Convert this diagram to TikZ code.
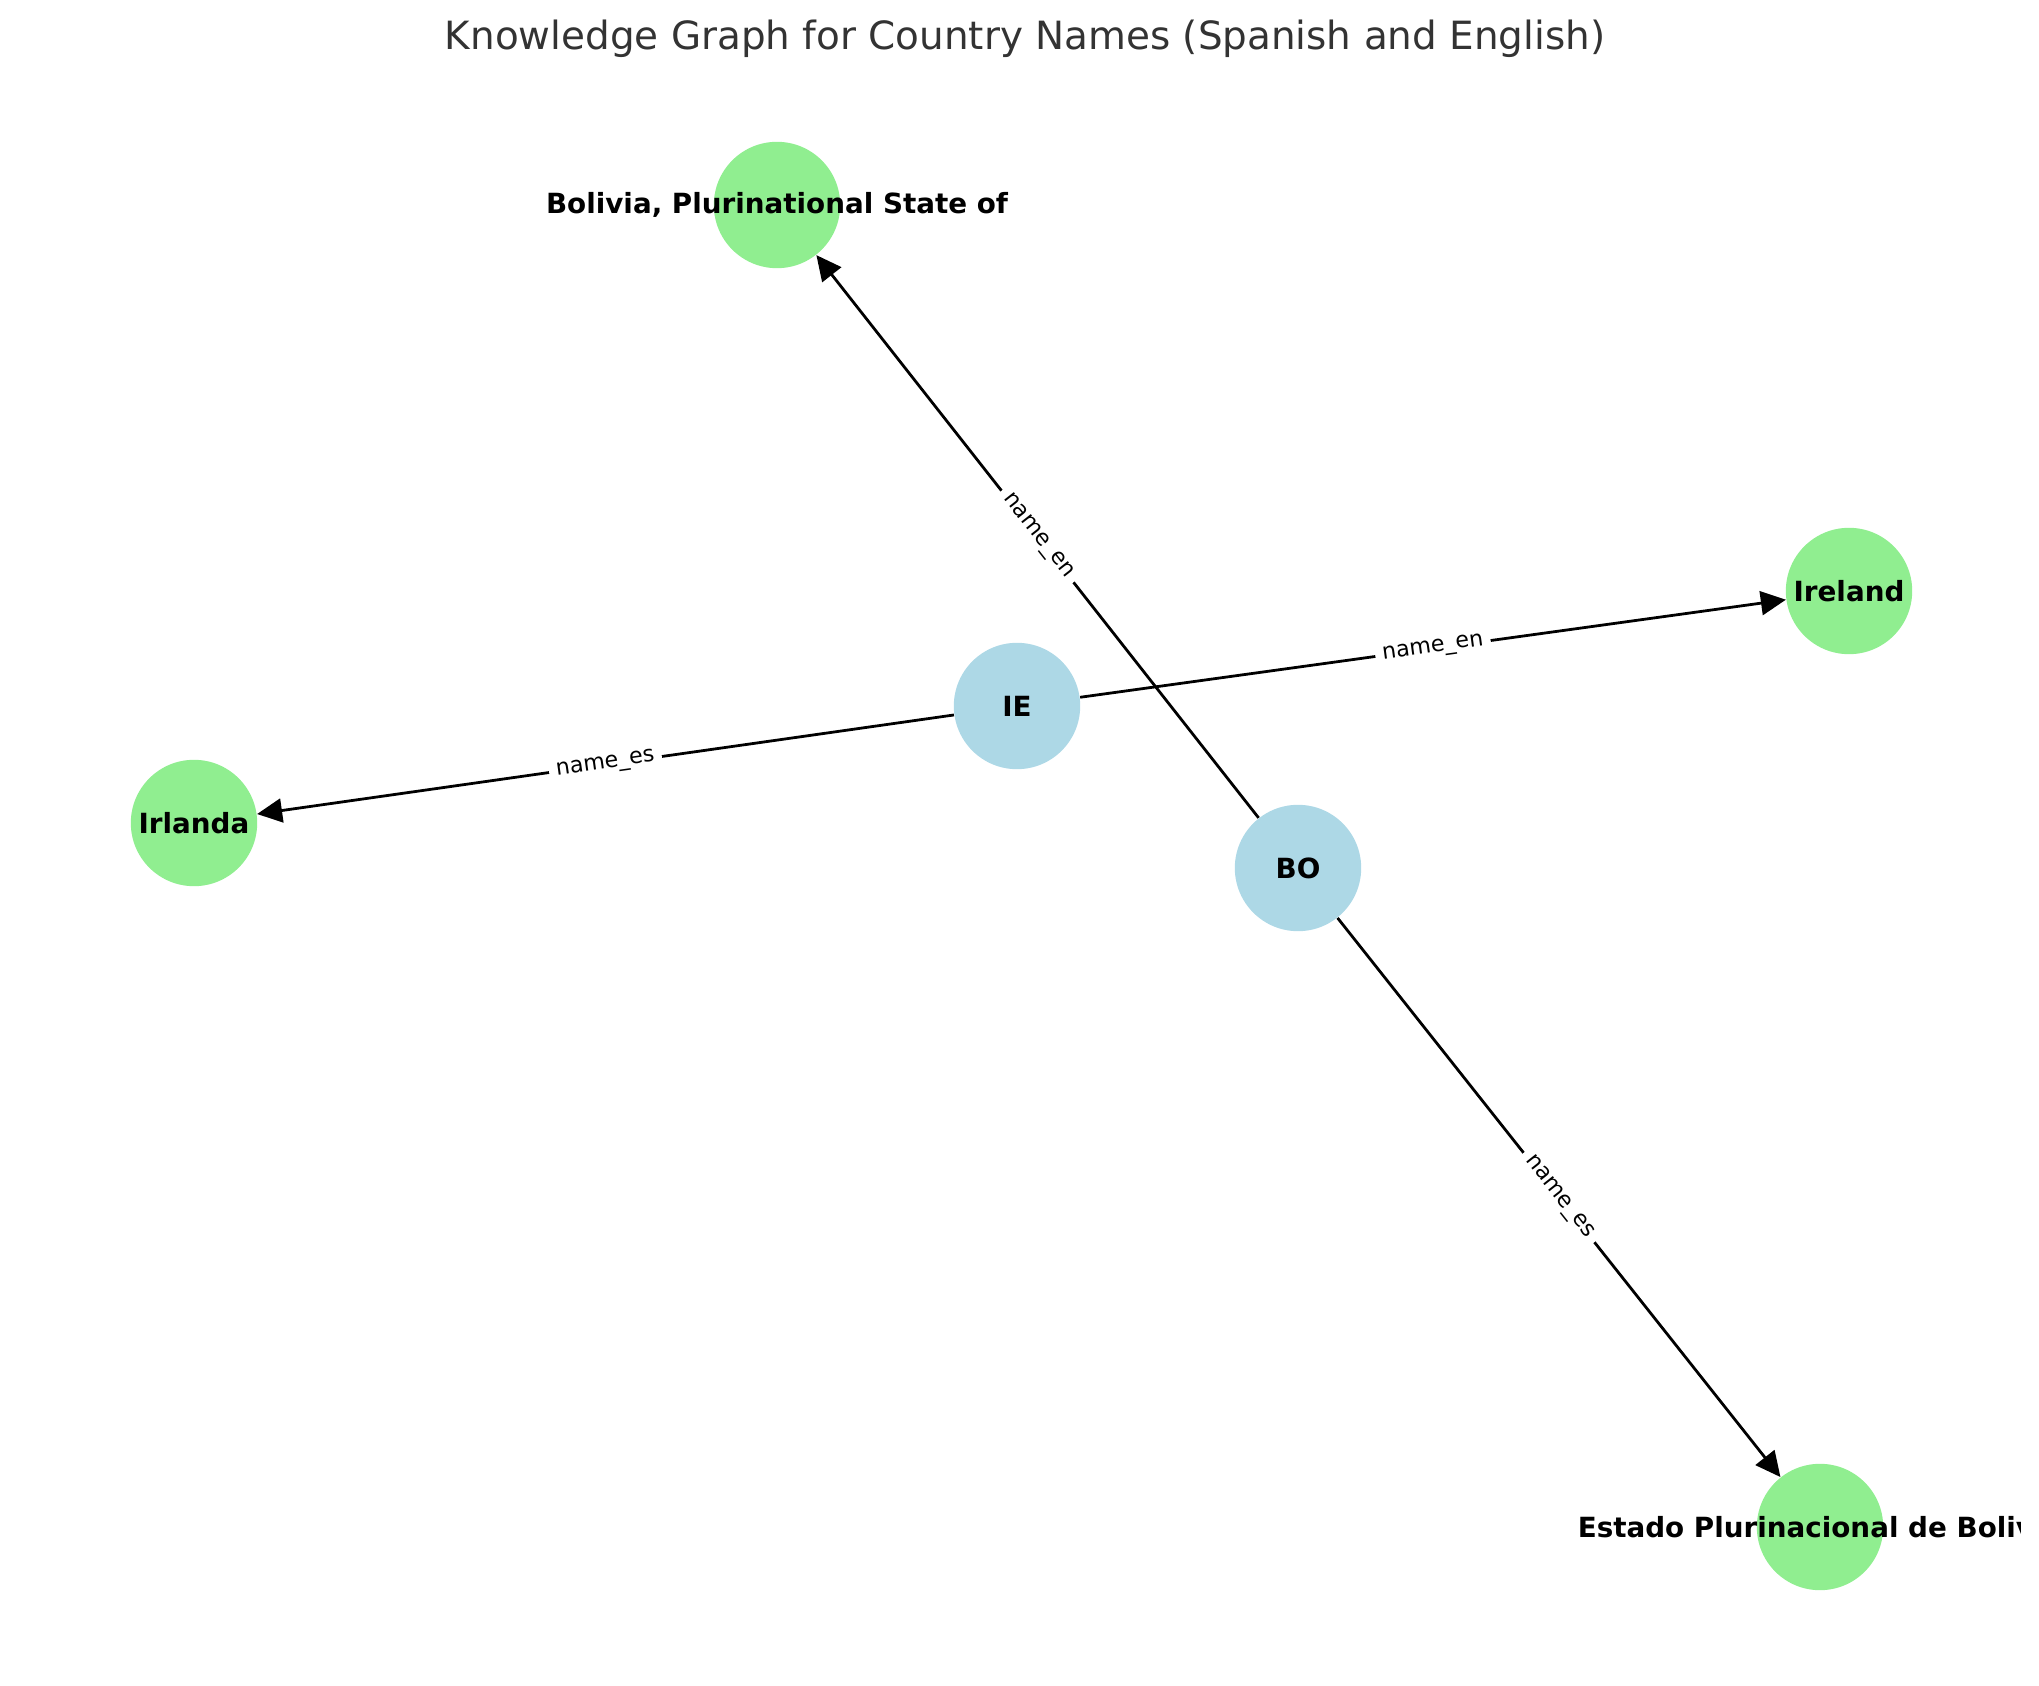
\documentclass[tikz,border=0pt]{standalone}
\usepackage{fontspec}
\setmainfont{DejaVu Sans}
\usepackage{xcolor}
\usetikzlibrary{arrows.meta}

\definecolor{codeblue}{HTML}{ADD8E6}
\definecolor{namegreen}{HTML}{90EE90}
\definecolor{titlegray}{HTML}{333333}

\begin{document}
\begin{tikzpicture}[>={Triangle[length=9pt, width=8.6pt]}, x=0.36pt, y=-0.36pt] % one unit is one pixel of the reference
	% Fix the canvas to the reference size
	\useasboundingbox (0,0) rectangle (2039,1686);

	\tikzset{
		code/.style={circle, fill=codeblue, minimum size=45.5pt, inner sep=0pt},
		cname/.style={circle, fill=namegreen, minimum size=45.5pt, inner sep=0pt},
		nlabel/.style={font=\fontsize{10}{12}\selectfont\bfseries, text=black},
		elabel/.style={midway, sloped, fill=white, rounded corners=2pt, inner sep=2.6pt, font=\fontsize{8}{9.6}\selectfont}
	}

	% Title
	\node[anchor=base, text=titlegray, font=\fontsize{14}{17}\selectfont] (title) at (1025,50) {Knowledge Graph for Country Names (Spanish and English)};

	% Nodes (labels are clipped at the right edge of the plot area)
	\begin{scope}
		\clip (0,0) rectangle (2020,1686);
		\node[code, label={[nlabel]center:IE}] (ie) at (1017,706) {};
		\node[code, label={[nlabel]center:BO}] (bo) at (1298,868) {};
		\node[cname, label={[nlabel]center:{Bolivia, Plurinational State of}}] (boEn) at (777,205) {};
		\node[cname, label={[nlabel]center:{Estado Plurinacional de Bolivia}}] (boEs) at (1820,1527) {};
		\node[cname, label={[nlabel]center:Ireland}] (ieEn) at (1849,591) {};
		\node[cname, label={[nlabel]center:Irlanda}] (ieEs) at (194,823) {};
	\end{scope}

	% Macro for a labelled name edge.
	% Usage: \nameedge{from}{to}{label}
	\newcommand{\nameedge}[3]{
		\draw[->, line width=1pt] (#1) -- (#2) node[elabel] {#3};
	}

	\nameedge{bo}{boEn}{name\_en};
	\nameedge{bo}{boEs}{name\_es};
	\nameedge{ie}{ieEn}{name\_en};
	\nameedge{ie}{ieEs}{name\_es};
\end{tikzpicture}
\end{document}
